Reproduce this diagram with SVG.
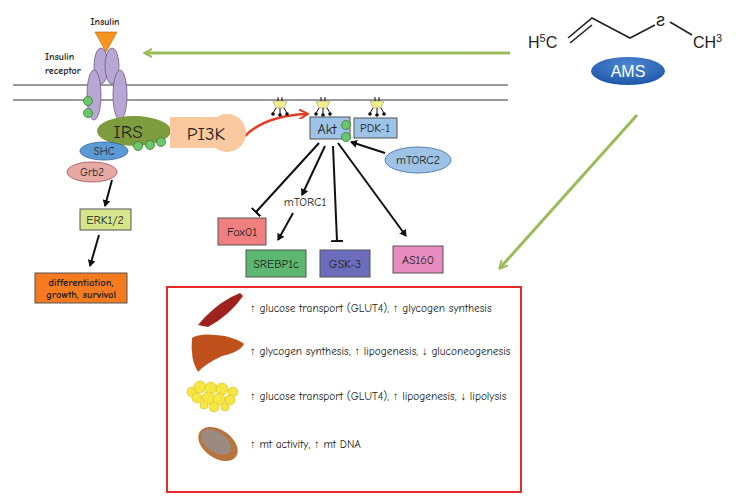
<svg xmlns="http://www.w3.org/2000/svg" width="736" height="497" viewBox="0 0 736 497">
<defs>
<style>
.t{font-family:"Comic Neue","Liberation Sans",sans-serif;fill:#222}
.b{font-weight:bold}
.ln{stroke:#111;stroke-width:2;fill:none}
.box{stroke:#555;stroke-width:1}
.gc{fill:#6cc66c;stroke:#3a7a3a;stroke-width:0.8}
.rc{fill:#b8a6d4;stroke:#6a5a8a;stroke-width:0.8}
</style>
<marker id="ah" markerWidth="8" markerHeight="8" refX="6" refY="4" orient="auto" markerUnits="userSpaceOnUse"><path d="M0,0L7,4L0,8Z" fill="#111"/></marker>
<marker id="tb" markerWidth="2" markerHeight="12" refX="1" refY="6" orient="auto" markerUnits="userSpaceOnUse"><rect x="0" y="0" width="2.5" height="12" fill="#111"/></marker>
<marker id="ra" markerWidth="10" markerHeight="10" refX="7" refY="5" orient="auto" markerUnits="userSpaceOnUse"><path d="M0,0L9,5L0,10" fill="none" stroke="#e53a24" stroke-width="2"/></marker>
<marker id="ga" markerWidth="10" markerHeight="10" refX="8" refY="5" orient="auto" markerUnits="userSpaceOnUse"><path d="M1,1L9,5L1,9" fill="none" stroke="#9bbb59" stroke-width="2"/></marker>
<g id="rec"><path d="M-7,0 L7,0 L4,7 L-4,7Z" fill="#f5ef8a" stroke="#999" stroke-width="0.6"/><path d="M-2,-4V0M2,-4V0M-4,7L-7,12M0,7V13M4,7L7,12" stroke="#111" stroke-width="1"/><circle cx="-7" cy="13" r="1.8" fill="#111"/><circle cx="0" cy="14" r="1.8" fill="#111"/><circle cx="7" cy="13" r="1.8" fill="#111"/></g>
<radialGradient id="ams" cx="50%" cy="30%" r="70%"><stop offset="0" stop-color="#4d87d4"/><stop offset="1" stop-color="#1f57a8"/></radialGradient>
</defs>
<rect width="736" height="497" fill="#fff"/>
<line x1="13" y1="85" x2="508" y2="85" stroke="#333"/>
<line x1="13" y1="100" x2="508" y2="100" stroke="#333"/>
<g id="connectors">
<line x1="510" y1="53" x2="145" y2="53" stroke="#9bbb59" stroke-width="3" marker-end="url(#ga)"/>
<line x1="637" y1="115" x2="500" y2="268" stroke="#9bbb59" stroke-width="3" marker-end="url(#ga)"/>
<line class="ln" x1="112" y1="180" x2="105" y2="206" marker-end="url(#ah)"/>
<line class="ln" x1="99" y1="235" x2="90" y2="266" marker-end="url(#ah)"/>
<path d="M245,136 Q265,116 306,114" fill="none" stroke="#e53a24" stroke-width="2.5" marker-end="url(#ra)"/>
<line class="ln" x1="385" y1="153" x2="351" y2="142" marker-end="url(#ah)"/>
<line class="ln" x1="319" y1="143" x2="256" y2="212" marker-end="url(#tb)"/>
<line class="ln" x1="325" y1="146" x2="302" y2="195" marker-end="url(#ah)"/>
<line class="ln" x1="293" y1="213" x2="278" y2="240" marker-end="url(#ah)"/>
<line class="ln" x1="333" y1="146" x2="337" y2="241" marker-end="url(#tb)"/>
<line class="ln" x1="338" y1="143" x2="406" y2="236" marker-end="url(#ah)"/>
</g>
<g id="insulin"><text class="t b" x="105" y="25" font-size="10" text-anchor="middle">Insulin</text><path d="M95,32L117,32L106,52Z" fill="#f7941d" stroke="#b06010" stroke-width="0.6"/></g>
<g id="receptor">
<ellipse class="rc" cx="101" cy="66" rx="7" ry="18"/><ellipse class="rc" cx="112" cy="66" rx="7" ry="18"/>
<ellipse class="rc" cx="94" cy="95" rx="7" ry="25"/><ellipse class="rc" cx="120" cy="95" rx="7" ry="25"/>
<circle class="gc" cx="88" cy="101" r="4.5"/><circle class="gc" cx="88" cy="113" r="4.5"/>
<text class="t b" x="45" y="60" font-size="10">Insulin</text><text class="t b" x="45" y="74" font-size="10">receptor</text>
</g>
<g id="irs"><ellipse cx="134" cy="131" rx="37" ry="15" fill="#7d9c3d"/><text class="t" x="128" y="138" font-size="19" text-anchor="middle">IRS</text>
<circle class="gc" cx="138" cy="146" r="4.5"/><circle class="gc" cx="150" cy="145" r="4.5"/><circle class="gc" cx="161" cy="142" r="4.5"/></g>
<g id="pi3k"><rect x="170" y="117" width="50" height="31" fill="#fbc9a0"/><circle cx="227" cy="133" r="19" fill="#fbc9a0"/><text class="t" x="206" y="140" font-size="19" text-anchor="middle">PI3K</text></g>
<g id="shc"><ellipse cx="104" cy="151" rx="24" ry="9" fill="#5b9bd5" stroke="#2f5f9a" stroke-width="0.8"/><text class="t" x="104" y="155" font-size="11" text-anchor="middle">SHC</text></g>
<g id="grb2"><ellipse cx="92" cy="172" rx="25" ry="10" fill="#e6a9a4" stroke="#a05050" stroke-width="0.8"/><text class="t" x="92" y="176" font-size="11" text-anchor="middle">Grb2</text></g>
<g id="erk"><rect class="box" x="80" y="209" width="51" height="21" fill="#d7e58a"/><text class="t" x="105" y="224" font-size="12" text-anchor="middle">ERK1/2</text></g>
<g id="diff"><rect class="box" x="35" y="273" width="92" height="30" fill="#f47b20"/><text class="t b" x="81" y="286" font-size="10.5" text-anchor="middle">differentiation,</text><text class="t b" x="81" y="298" font-size="10.5" text-anchor="middle">growth, survival</text></g>
<use href="#rec" x="280" y="101"/><use href="#rec" x="323" y="101"/><use href="#rec" x="377" y="101"/>
<g id="akt"><rect class="box" x="310" y="117" width="40" height="22" fill="#9dc3e6"/><text class="t" x="327" y="134" font-size="14" text-anchor="middle">Akt</text>
<circle class="gc" cx="346" cy="125" r="4.5"/><circle class="gc" cx="346" cy="137" r="4.5"/></g>
<g id="pdk1"><rect class="box" x="354" y="118" width="43" height="20" fill="#9dc3e6"/><text class="t" x="375" y="132" font-size="12" text-anchor="middle">PDK-1</text></g>
<g id="mtorc2"><ellipse cx="418" cy="160" rx="33" ry="13" fill="#9dc3e6" stroke="#3b6a9a" stroke-width="0.8"/><text class="t" x="418" y="164" font-size="12" text-anchor="middle">mTORC2</text></g>
<g id="mtorc1"><text class="t" x="305" y="206" font-size="12" text-anchor="middle">mTORC1</text></g>
<g id="fox01"><rect class="box" x="218" y="218" width="48" height="27" fill="#f08080"/><text class="t" x="242" y="236" font-size="12" text-anchor="middle">Fox01</text></g>
<g id="srebp"><rect class="box" x="246" y="250" width="60" height="27" fill="#5cb870"/><text class="t" x="276" y="268" font-size="12" text-anchor="middle">SREBP1c</text></g>
<g id="gsk3"><rect class="box" x="320" y="250" width="50" height="27" fill="#6c6cbc"/><text class="t" x="345" y="268" font-size="12" text-anchor="middle">GSK-3</text></g>
<g id="as160"><rect class="box" x="393" y="246" width="50" height="27" fill="#e88cc0"/><text class="t" x="418" y="264" font-size="12" text-anchor="middle">AS160</text></g>
<g id="ams">
<text x="528" y="48" font-family="Liberation Sans,sans-serif" font-size="16" fill="#222">H<tspan font-size="11" dy="-6">5</tspan><tspan dy="6">C</tspan></text>
<path d="M568,38L592,18L630,38L655,25M570,43L592,25" fill="none" stroke="#222" stroke-width="1.6"/>
<text x="656" y="26" font-family="Liberation Sans,sans-serif" font-size="18" fill="#222">ƨ</text>
<path d="M670,22L692,35" stroke="#222" stroke-width="1.6"/>
<text x="693" y="48" font-family="Liberation Sans,sans-serif" font-size="16" fill="#222">CH<tspan font-size="11" dy="-6">3</tspan></text>
<ellipse cx="628" cy="71" rx="37" ry="14" fill="url(#ams)"/><text x="628" y="77" font-family="Liberation Sans,sans-serif" font-size="16" fill="#fff" text-anchor="middle">AMS</text>
</g>
<g id="effects">
<rect x="167" y="287" width="354" height="205" fill="none" stroke="#e52b2b" stroke-width="2"/>
<path d="M198,325L205,317Q222,300 240,293L243,296Q230,315 208,327Z" fill="#a0221e"/>
<path d="M192,338Q200,332 225,336Q240,340 244,344Q240,352 222,356Q205,364 198,372Q190,360 192,338Z" fill="#c0501c"/>
<g fill="#f5e642" stroke="#d8c020" stroke-width="0.6"><circle cx="192" cy="392" r="5"/><circle cx="200" cy="387" r="6"/><circle cx="211" cy="388" r="6"/><circle cx="222" cy="389" r="6"/><circle cx="233" cy="392" r="5"/><circle cx="197" cy="398" r="5"/><circle cx="208" cy="398" r="6"/><circle cx="219" cy="399" r="6"/><circle cx="230" cy="400" r="5"/><circle cx="214" cy="407" r="5"/><circle cx="225" cy="407" r="4"/><circle cx="204" cy="405" r="4"/></g>
<ellipse cx="218" cy="444" rx="22" ry="14" transform="rotate(35 218 444)" fill="#b8743a"/>
<ellipse cx="216" cy="442" rx="17" ry="10" transform="rotate(35 216 442)" fill="#9a8a80"/>
<g class="t" font-size="11.3">
<text x="250" y="312">↑ glucose transport (GLUT4), ↑ glycogen synthesis</text>
<text x="250" y="355">↑ glycogen synthesis, ↑ lipogenesis, ↓ gluconeogenesis</text>
<text x="250" y="400">↑ glucose transport (GLUT4), ↑ lipogenesis, ↓ lipolysis</text>
<text x="250" y="448">↑ mt  activity,   ↑ mt  DNA</text>
</g>
</g>
</svg>
